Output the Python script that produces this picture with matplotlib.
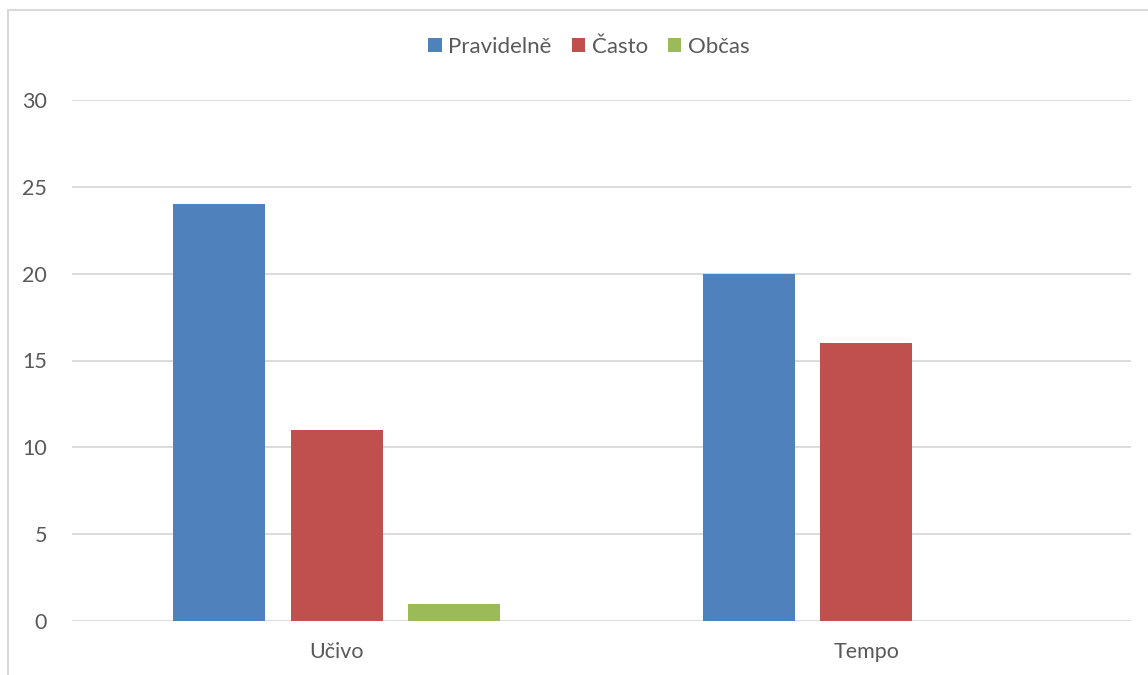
import numpy as np
import matplotlib.pyplot as plt
from matplotlib.patches import Rectangle

plt.rcParams['font.family'] = ['Lato', 'DejaVu Sans']

categories = ['Učivo', 'Tempo']
series_names = ['Pravidelně', 'Často', 'Občas']
pravidelne = [24, 20]
casto = [11, 16]
obcas = [1, 0]
yticks = [0, 5, 10, 15, 20, 25, 30]

colors = ['#4F81BD', '#C0504D', '#9BBB59']
text_color = '#595959'
grid_color = '#D9D9D9'

W, H = 1148, 675
fig = plt.figure(figsize=(W / 100, H / 100), dpi=100)
fig.patch.set_facecolor('white')

# chart frame (runs off the right and bottom edge like the screenshot)
fig.patches.append(Rectangle((8 / W, -0.1), 1.2, 1 - 10 / H + 0.1,
                             transform=fig.transFigure, fill=False,
                             edgecolor=grid_color, linewidth=1.5))

ax = fig.add_axes([72 / W, (H - 621) / H, (1131 - 72) / W, (621 - 100) / H])

x = np.arange(len(categories))
offset = 117.5 / 530
width = 92 / 530
for i, (name, vals) in enumerate(zip(series_names, [pravidelne, casto, obcas])):
    ax.bar(x + (i - 1) * offset, vals, width, color=colors[i], label=name, zorder=3)

ax.set_xlim(-0.5, 1.5)
ax.set_ylim(0, 30)
ax.set_yticks(yticks)
ax.set_xticks(x)
ax.set_xticklabels(categories)
ax.grid(axis='y', color=grid_color, linewidth=1.3, zorder=0)
for s in ax.spines.values():
    s.set_visible(False)
ax.tick_params(length=0, colors=text_color, labelsize=15.5)
ax.tick_params(axis='y', pad=18)
ax.tick_params(axis='x', pad=15)

fig.legend(loc='center', bbox_to_anchor=(589 / W, 1 - 47 / H), ncol=3,
           frameon=False, fontsize=16, labelcolor=text_color,
           handlelength=0.6, handleheight=0.6, handletextpad=0.3,
           columnspacing=0.9)

fig.savefig('out.png', dpi=100)
